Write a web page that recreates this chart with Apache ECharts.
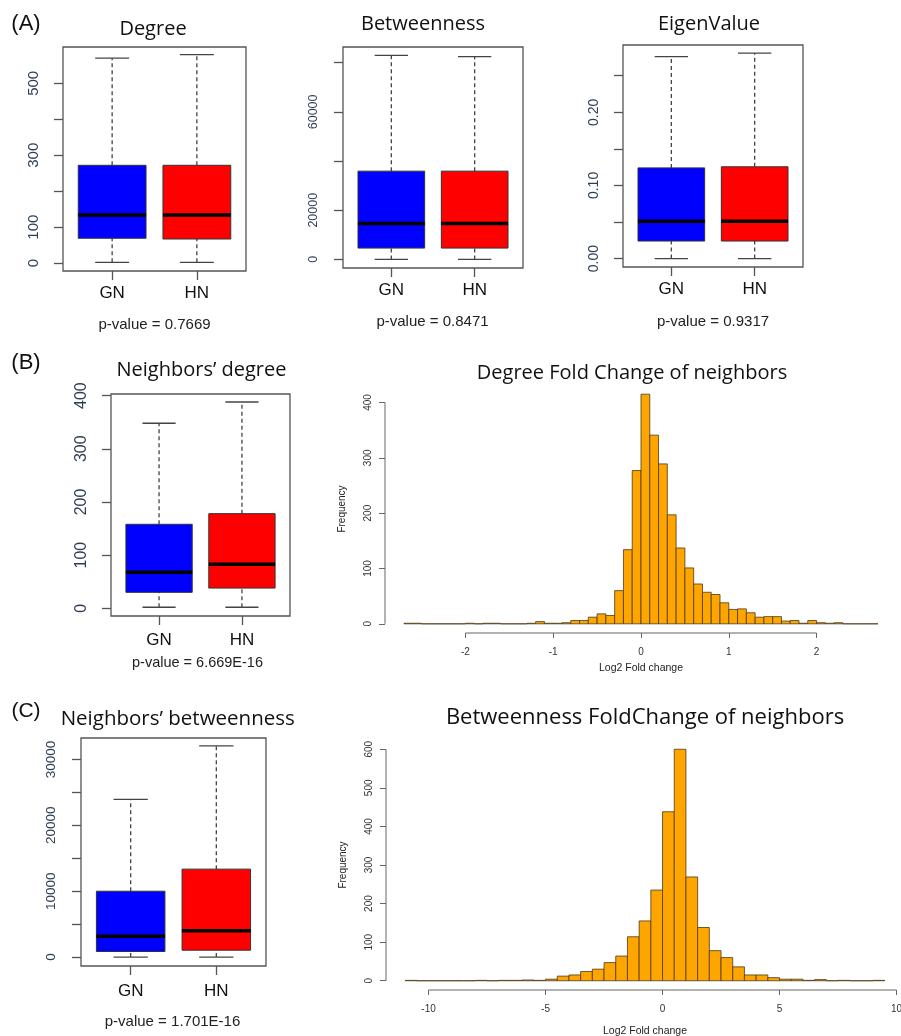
<!DOCTYPE html>
<html>
<head>
<meta charset="utf-8">
<title>GN vs HN centrality</title>
<script src="https://cdn.jsdelivr.net/npm/echarts@6.0.0/dist/echarts.min.js"></script>
<style>
  html, body { margin: 0; padding: 0; background: #fff; }
  #chart { width: 901px; height: 1036px; }
</style>
</head>
<body>
<div id="chart"></div>
<script>
// groups and box colours
const groups = ['GN', 'HN'];
const boxColors = ['#0000ff', '#ff0000'];

// box stats per group: [low whisker, Q1, median, Q3, high whisker]
const degreeStats = [[2, 69, 134, 272, 570], [2, 67, 134, 272, 580]];
const betweennessStats = [[0, 4600, 14600, 35900, 83000], [0, 4600, 14600, 35900, 82500]];
const eigenStats = [[0, 0.024, 0.051, 0.124, 0.276], [0, 0.024, 0.051, 0.1255, 0.281]];
const nbDegreeStats = [[2, 30, 68, 158, 348], [2, 38, 83, 178, 388]];
const nbBetweennessStats = [[0, 850, 3150, 10000, 23950], [0, 1050, 4000, 13350, 32050]];

const pValues = ['0.7669', '0.8471', '0.9317', '6.669E-16', '1.701E-16'];

// tick positions / shown labels
const degreeTicks = [0, 100, 200, 300, 400, 500];
const degreeLabels = [0, 100, 300, 500];
const betweennessTicks = [0, 20000, 40000, 60000, 80000];
const betweennessLabels = [0, 20000, 60000];
const eigenTicks = [0, 0.05, 0.1, 0.15, 0.2, 0.25];
const eigenLabels = [0, 0.1, 0.2];
const nbDegreeTicks = [0, 100, 200, 300, 400];
const nbBetweennessTicks = [0, 5000, 10000, 15000, 20000, 25000, 30000];
const nbBetweennessLabels = [0, 10000, 20000, 30000];

// histogram: Log2 fold change of neighbours' degree (bins of 0.1 from -2.7)
const degreeFcStart = -2.7;
const degreeFcWidth = 0.1;
const degreeFcCounts = [
  1, 1, 0, 0, 0, 0, 0, 1, 0, 1, 1, 0, 0, 0, 1, 4, 1, 1, 2, 6, 6, 12, 18, 15, 60, 134, 277,
  415, 341, 289, 197, 137, 101, 72, 57, 53, 38, 26, 27, 20, 12, 13, 13, 5, 6, 1, 6, 2, 1, 2, 0, 0, 0, 0
];
const degreeFcXTicks = [-2, -1, 0, 1, 2];
const degreeFcYTicks = [0, 100, 200, 300, 400];

// histogram: Log2 fold change of neighbours' betweenness (bins of 0.5 from -11)
const betwFcStart = -11;
const betwFcWidth = 0.5;
const betwFcCounts = [
  1, 0, 0, 0, 0, 0, 1, 0, 1, 1, 2, 1, 4, 12, 15, 24, 30, 47, 64, 114, 155, 235,
  438, 600, 269, 138, 78, 60, 36, 15, 15, 8, 4, 4, 1, 3, 0, 1, 0, 0, 1
];
const betwFcXTicks = [-10, -5, 0, 5, 10];
const betwFcYTicks = [0, 100, 200, 300, 400, 500, 600];

const R_FONT = '"Liberation Sans", Arial, sans-serif';
const TITLE_FONT = '"Open Sans", "Noto Sans", sans-serif';

function boxData(stats) {
  return stats.map((s, i) => [i + 1].concat(s));
}
function histData(start, width, counts) {
  return counts.map((c, i) => [start + i * width, start + (i + 1) * width, c]);
}

// R style box: dashed whiskers, solid staples, thick median
function renderBox(params, api) {
  const x = api.value(0);
  const px = v => api.coord([v, 0])[0];
  const py = v => api.coord([x, v])[1];
  const cx = px(x), xl = px(x - 0.4), xr = px(x + 0.4);
  const sl = px(x - 0.2), sr = px(x + 0.2);
  const yLow = py(api.value(1)), yQ1 = py(api.value(2)), yMed = py(api.value(3));
  const yQ3 = py(api.value(4)), yHigh = py(api.value(5));
  const dash = { stroke: '#444', lineWidth: 1.3, lineDash: [4, 3] };
  const solid = { stroke: '#444', lineWidth: 1.3 };
  return {
    type: 'group',
    children: [
      { type: 'line', shape: { x1: cx, y1: yQ3, x2: cx, y2: yHigh }, style: dash },
      { type: 'line', shape: { x1: cx, y1: yLow, x2: cx, y2: yQ1 }, style: dash },
      { type: 'line', shape: { x1: sl, y1: yHigh, x2: sr, y2: yHigh }, style: solid },
      { type: 'line', shape: { x1: sl, y1: yLow, x2: sr, y2: yLow }, style: solid },
      { type: 'rect', shape: { x: xl, y: yQ3, width: xr - xl, height: yQ1 - yQ3 },
        style: { fill: boxColors[params.dataIndex], stroke: '#333', lineWidth: 1 } },
      { type: 'line', shape: { x1: xl, y1: yMed, x2: xr, y2: yMed }, style: { stroke: '#000', lineWidth: 3.5 } }
    ]
  };
}

function renderHist(params, api) {
  const a = api.coord([api.value(0), 0]);
  const b = api.coord([api.value(1), api.value(2)]);
  return {
    type: 'rect',
    shape: { x: a[0], y: b[1], width: b[0] - a[0], height: a[1] - b[1] },
    style: { fill: '#ffa500', stroke: '#4a3a1a', lineWidth: 0.8 }
  };
}

// R draws the axis line only from first to last tick
function renderSpanX(params, api) {
  const cs = params.coordSys;
  const y = cs.y + cs.height;
  return { type: 'line',
    shape: { x1: api.coord([api.value(0), 0])[0], y1: y, x2: api.coord([api.value(1), 0])[0], y2: y },
    style: { stroke: '#666', lineWidth: 1 } };
}
function renderSpanY(params, api) {
  const cs = params.coordSys;
  return { type: 'line',
    shape: { x1: cs.x, y1: api.coord([0, api.value(0)])[1], x2: cs.x, y2: api.coord([0, api.value(1)])[1] },
    style: { stroke: '#666', lineWidth: 1 } };
}

const boxGrid = (left, top, width, height) => ({
  left, top, width, height, show: true, borderColor: '#555', borderWidth: 1.3,
  backgroundColor: 'transparent', containLabel: false, outerBoundsMode: 'none'
});
const histGrid = (left, top, width, height) => ({
  left, top, width, height, show: false, containLabel: false, outerBoundsMode: 'none'
});

const noLine = { show: false, onZero: false };

function boxX(gridIndex, margin) {
  return {
    type: 'value', gridIndex, min: 0.42, max: 2.58, position: 'bottom',
    axisLine: noLine, splitLine: { show: false },
    axisTick: { show: true, customValues: [1, 2], length: 9, lineStyle: { color: '#555', width: 1.3 } },
    axisLabel: { customValues: [1, 2], formatter: v => groups[Math.round(v) - 1], margin,
      fontSize: 17, fontFamily: R_FONT, color: '#111' }
  };
}
function boxY(gridIndex, min, max, ticks, labels, fontSize, fmt) {
  return {
    type: 'value', gridIndex, min, max, position: 'left',
    axisLine: noLine, splitLine: { show: false },
    axisTick: { show: true, customValues: ticks, length: 9, lineStyle: { color: '#555', width: 1.3 } },
    axisLabel: { customValues: labels, rotate: 90, margin: 29 - fontSize / 2, fontSize,
      fontFamily: R_FONT, color: '#2e3f55', formatter: fmt || (v => String(v)) }
  };
}
function histX(gridIndex, min, max, ticks, nameGap) {
  return {
    type: 'value', gridIndex, min, max, position: 'bottom',
    name: 'Log2 Fold change', nameLocation: 'middle', nameGap,
    nameTextStyle: { fontSize: 10.5, fontFamily: R_FONT, color: '#222' },
    axisLine: noLine, splitLine: { show: false },
    axisTick: { show: true, customValues: ticks, length: 5, lineStyle: { color: '#666' } },
    axisLabel: { customValues: ticks, margin: 14, fontSize: 10, fontFamily: R_FONT, color: '#333',
      formatter: v => String(v) }
  };
}
function histY(gridIndex, min, max, ticks) {
  return {
    type: 'value', gridIndex, min, max, position: 'left',
    name: 'Frequency', nameLocation: 'middle', nameGap: 38, nameRotate: 90,
    nameTextStyle: { fontSize: 10, fontFamily: R_FONT, color: '#222' },
    axisLine: noLine, splitLine: { show: false },
    axisTick: { show: true, customValues: ticks, length: 6, lineStyle: { color: '#666' } },
    axisLabel: { customValues: ticks, rotate: 90, margin: 12, fontSize: 10, fontFamily: R_FONT,
      color: '#333', formatter: v => String(v) }
  };
}

function text(str, x, y, size, family, color) {
  return { type: 'text', x, y, silent: true,
    style: { text: str, fontSize: size, fontFamily: family, fill: color || '#111',
      align: 'center', verticalAlign: 'middle' } };
}

const chart = echarts.init(document.getElementById('chart'), null, { renderer: 'canvas' });

const option = {
  animation: false,
  backgroundColor: '#fff',
  grid: [
    boxGrid(63, 47, 183, 224),
    boxGrid(343, 47, 180, 221),
    boxGrid(623, 45, 180, 222),
    boxGrid(111, 394, 179, 222),
    histGrid(385, 385, 512, 248),
    boxGrid(81, 738, 185, 228),
    histGrid(386, 740, 518, 250)
  ],
  xAxis: [
    boxX(0, 13.5),
    boxX(1, 13.5),
    boxX(2, 13.5),
    boxX(3, 15.5),
    histX(4, -2.916, 2.916, degreeFcXTicks, 30),
    boxX(5, 17),
    histX(6, -11.82, 10.32, betwFcXTicks, 36)
  ],
  yAxis: [
    boxY(0, -22, 601, degreeTicks, degreeLabels, 15),
    boxY(1, -3500, 86400, betweennessTicks, betweennessLabels, 12.5),
    boxY(2, -0.0115, 0.292, eigenTicks, eigenLabels, 14, v => v.toFixed(2)),
    boxY(3, -14.5, 403, nbDegreeTicks, nbDegreeTicks, 16),
    histY(4, -16.6, 431.6, degreeFcYTicks),
    boxY(5, -1350, 33250, nbBetweennessTicks, nbBetweennessLabels, 13.5),
    histY(6, -24, 624, betwFcYTicks)
  ],
  series: [
    { type: 'custom', xAxisIndex: 0, yAxisIndex: 0, renderItem: renderBox, data: boxData(degreeStats) },
    { type: 'custom', xAxisIndex: 1, yAxisIndex: 1, renderItem: renderBox, data: boxData(betweennessStats) },
    { type: 'custom', xAxisIndex: 2, yAxisIndex: 2, renderItem: renderBox, data: boxData(eigenStats) },
    { type: 'custom', xAxisIndex: 3, yAxisIndex: 3, renderItem: renderBox, data: boxData(nbDegreeStats) },
    { type: 'custom', xAxisIndex: 4, yAxisIndex: 4, renderItem: renderHist,
      data: histData(degreeFcStart, degreeFcWidth, degreeFcCounts) },
    { type: 'custom', xAxisIndex: 4, yAxisIndex: 4, renderItem: renderSpanX,
      data: [[degreeFcXTicks[0], degreeFcXTicks[degreeFcXTicks.length - 1]]] },
    { type: 'custom', xAxisIndex: 4, yAxisIndex: 4, renderItem: renderSpanY,
      data: [[degreeFcYTicks[0], degreeFcYTicks[degreeFcYTicks.length - 1]]] },
    { type: 'custom', xAxisIndex: 5, yAxisIndex: 5, renderItem: renderBox, data: boxData(nbBetweennessStats) },
    { type: 'custom', xAxisIndex: 6, yAxisIndex: 6, renderItem: renderHist,
      data: histData(betwFcStart, betwFcWidth, betwFcCounts) },
    { type: 'custom', xAxisIndex: 6, yAxisIndex: 6, renderItem: renderSpanX,
      data: [[betwFcXTicks[0], betwFcXTicks[betwFcXTicks.length - 1]]] },
    { type: 'custom', xAxisIndex: 6, yAxisIndex: 6, renderItem: renderSpanY,
      data: [[betwFcYTicks[0], betwFcYTicks[betwFcYTicks.length - 1]]] }
  ],
  graphic: {
    elements: [
      text('(A)', 26, 24, 22, R_FONT),
      text('Degree', 153, 29, 20, TITLE_FONT),
      text('Betweenness', 423, 24, 20, TITLE_FONT),
      text('EigenValue', 709, 24.5, 20, TITLE_FONT),
      text('p-value = ' + pValues[0], 154.5, 325, 15, R_FONT, '#222'),
      text('p-value = ' + pValues[1], 432.5, 321.7, 15, R_FONT, '#222'),
      text('p-value = ' + pValues[2], 713, 322, 15, R_FONT, '#222'),
      text('(B)', 26, 363, 22, R_FONT),
      text('Neighbors’ degree', 201.5, 370, 20, TITLE_FONT),
      text('p-value = ' + pValues[3], 197.5, 663, 14.5, R_FONT, '#222'),
      text('Degree Fold Change of neighbors', 632, 373, 20, TITLE_FONT),
      text('(C)', 26, 711, 21, R_FONT),
      text('Neighbors’ betweenness', 177.7, 719, 20.5, TITLE_FONT),
      text('p-value = ' + pValues[4], 172.5, 1021.7, 15, R_FONT, '#222'),
      text('Betweenness FoldChange of neighbors', 645, 718, 22, TITLE_FONT)
    ]
  }
};

chart.setOption(option);
</script>
</body>
</html>
